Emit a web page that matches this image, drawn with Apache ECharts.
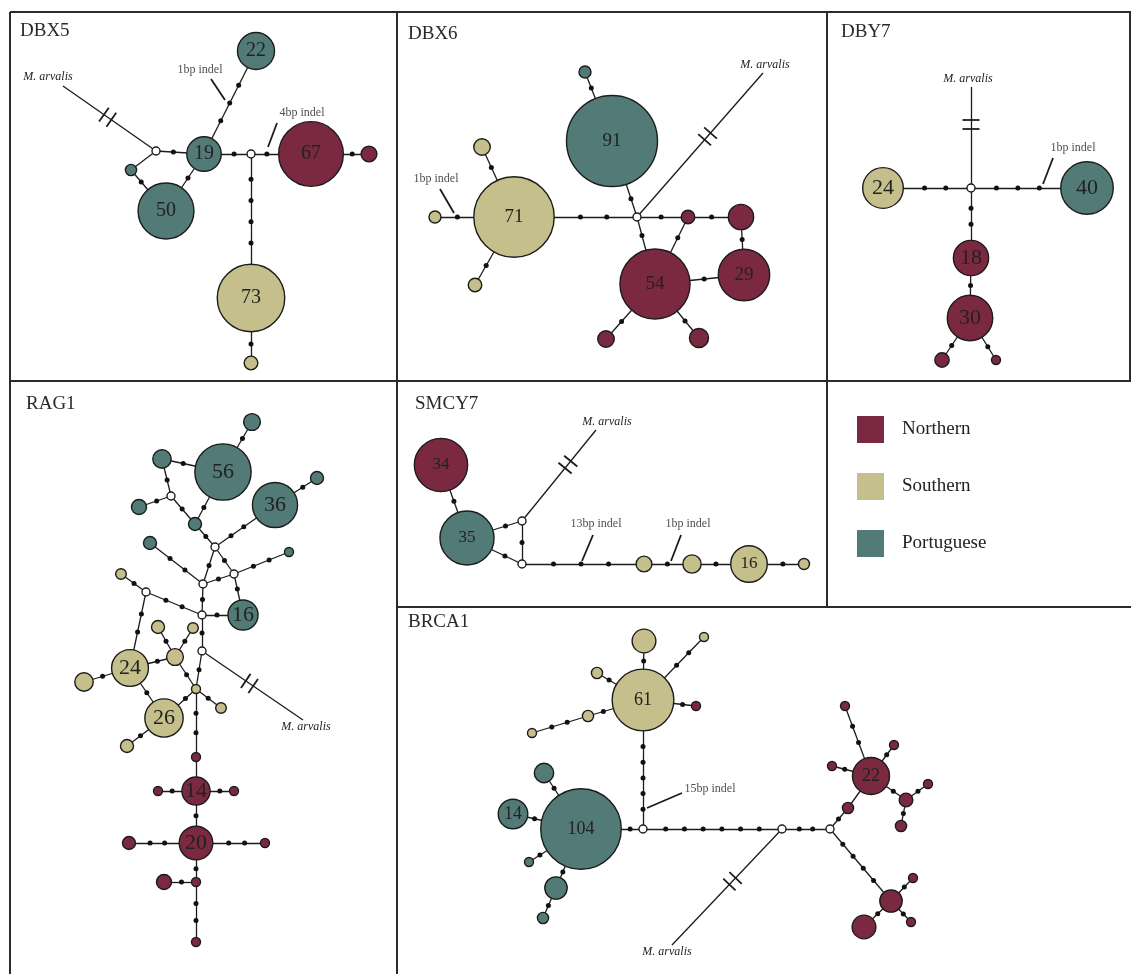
<!DOCTYPE html>
<html><head><meta charset="utf-8">
<script src="https://cdn.jsdelivr.net/npm/echarts@6/dist/echarts.min.js"></script>
<style>html,body{margin:0;padding:0;background:#fff}#c{width:1131px;height:974px}</style>
</head><body><div id="c"></div>
<script>
// ================= DATA =================
const REGIONS = ['Northern', 'Southern', 'Portuguese'];
const OUTGROUP = 'M. arvalis';

// DBX5: haplotypes [id, region, count], median vectors, links [from, to, mutation steps]
const DBX5_HAPLOTYPES = [['a','Portuguese',22],['b','Portuguese',19],['c','Northern',67],['d','Northern',4],
  ['e','Portuguese',50],['f','Portuguese',2],['g','Southern',73],['h','Southern',3]];
const DBX5_MEDIANS = ['m1','m2'];
const DBX5_LINKS = [['m1','b',1],['m1','f',0],['f','e',1],['b','e',1],['b','a',3],['b','m2',1],
  ['m2','c',1],['c','d',1],['m2','g',4],['g','h',1],['m1','arv',0]];
const DBX5_INDELS = ['1bp indel','4bp indel'];

const DBX6_HAPLOTYPES = [['a','Portuguese',91],['b','Portuguese',1],['c','Southern',71],['d','Southern',3],
  ['e','Southern',1],['f','Southern',2],['g','Northern',2],['h','Northern',7],['i','Northern',29],
  ['j','Northern',54],['k','Northern',3],['l','Northern',4]];
const DBX6_MEDIANS = ['m'];
const DBX6_LINKS = [['a','b',1],['c','d',1],['c','e',1],['c','f',1],['c','m',2],['a','m',1],['m','g',1],
  ['g','h',1],['h','i',1],['m','j',1],['j','g',1],['j','i',1],['j','k',1],['j','l',1],['m','arv',0]];
const DBX6_INDELS = ['1bp indel'];

const DBY7_HAPLOTYPES = [['a','Southern',24],['b','Portuguese',40],['c','Northern',18],['d','Northern',30],
  ['e','Northern',3],['f','Northern',1]];
const DBY7_MEDIANS = ['m'];
const DBY7_LINKS = [['a','m',2],['m','b',3],['m','c',2],['c','d',1],['d','e',1],['d','f',1],['m','arv',0]];
const DBY7_INDELS = ['1bp indel'];

const RAG1_HAPLOTYPES = [['n56','Portuguese',56],['t1','Portuguese',5],['t2','Portuguese',6],['t3','Portuguese',4],
  ['t4','Portuguese',3],['n36','Portuguese',36],['t5','Portuguese',3],['t6','Portuguese',3],['t7','Portuguese',1],
  ['n16','Portuguese',16],['s1','Southern',2],['n24','Southern',24],['H','Southern',1],['I','Southern',5],
  ['s2','Southern',3],['s3','Southern',2],['s4','Southern',6],['n26','Southern',26],['s5','Southern',3],
  ['s6','Southern',2],['r1','Northern',1],['n14','Northern',14],['r2','Northern',1],['r3','Northern',1],
  ['n20','Northern',20],['r4','Northern',3],['r5','Northern',1],['J','Northern',1],['K','Northern',4],['r6','Northern',1]];
const RAG1_MEDIANS = ['A','B','C','D','E','F','G'];
const RAG1_LINKS = [['n56','t1',1],['n56','t2',1],['t2','A',1],['A','t3',1],['A','t4',1],['n56','t4',1],['t4','B',1],
  ['B','n36',2],['n36','t5',1],['t6','C',2],['B','C',1],['B','D',1],['C','D',1],['D','t7',2],['D','n16',1],
  ['C','E',1],['E','n16',1],['s1','F',1],['F','E',2],['F','n24',2],['E','G',1],['G','H',1],['G','arv',0],
  ['I','s2',1],['I','s3',1],['I','n24',1],['I','H',1],['n24','s4',1],['n24','n26',1],['n26','H',1],['n26','s5',1],
  ['H','s6',1],['H','r1',2],['r1','n14',0],['n14','r2',1],['n14','r3',1],['n14','n20',1],['n20','r4',2],
  ['n20','r5',2],['n20','J',1],['J','K',1],['J','r6',2]];
const RAG1_INDELS = [];

const SMCY7_HAPLOTYPES = [['a','Northern',34],['b','Portuguese',35],['t1','Southern',3],['t2','Southern',4],
  ['c','Southern',16],['t3','Southern',1]];
const SMCY7_MEDIANS = ['mu','ml'];
const SMCY7_LINKS = [['a','b',1],['b','mu',1],['b','ml',1],['mu','ml',1],['ml','t1',3],['t1','t2',1],
  ['t2','c',1],['c','t3',1],['mu','arv',0]];
const SMCY7_INDELS = ['13bp indel','1bp indel'];

const BRCA1_HAPLOTYPES = [['n61','Southern',61],['s1','Southern',9],['s2','Southern',1],['s3','Southern',2],
  ['r1','Northern',1],['s4','Southern',2],['s5','Southern',1],['n104','Portuguese',104],['p1','Portuguese',6],
  ['n14','Portuguese',14],['p2','Portuguese',1],['p3','Portuguese',8],['p4','Portuguese',2],['r2','Northern',2],
  ['n22','Northern',22],['r3','Northern',1],['r4','Northern',1],['r5','Northern',1],['r6','Northern',3],
  ['r7','Northern',1],['r8','Northern',2],['r9','Northern',8],['r10','Northern',1],['r11','Northern',1],['r12','Northern',9]];
const BRCA1_MEDIANS = ['M1','M2','M3'];
const BRCA1_LINKS = [['n61','s1',1],['n61','s2',2],['n61','s3',1],['n61','r1',1],['n61','s4',1],['s4','s5',2],
  ['n61','M1',5],['n104','M1',1],['n104','p1',1],['n104','n14',1],['n104','p2',1],['n104','p3',1],['p3','p4',1],
  ['M1','M2',6],['M2','M3',2],['M3','r2',1],['r2','n22',0],['n22','r3',2],['n22','r4',1],['n22','r5',1],
  ['n22','r6',1],['r6','r7',1],['r6','r8',1],['M3','r9',4],['r9','r10',1],['r9','r11',1],['r9','r12',1],['M2','arv',0]];
const BRCA1_INDELS = ['15bp indel'];

// ================= LAYOUT (figure units) =================
const DBX5_LAYOUT = {a:[256,51],b:[204,154],c:[311,154],d:[369,154],e:[166,211],f:[131,170],g:[251,298],
  h:[251,363],m1:[156,151],m2:[251,154],arv:[63,86]};
const DBX5_INDEL_MARKS = [[[211,79],[225,100],[200,70]],[[277,123],[268,147],[302,113]]];

const DBX6_LAYOUT = {a:[612,141],b:[585,72],c:[514,217],d:[482,147],e:[435,217],f:[475,285],g:[688,217],
  h:[741,217],i:[744,275],j:[655,284],k:[606,339],l:[699,338],m:[637,217],arv:[763,73]};
const DBX6_INDEL_MARKS = [[[440,189],[454,213],[436,179]]];

const DBY7_LAYOUT = {a:[883,188],b:[1087,188],c:[971,258],d:[970,318],e:[942,360],f:[996,360],m:[971,188],arv:[971,87]};
const DBY7_INDEL_MARKS = [[[1053,158],[1043,184],[1073,148]]];

const RAG1_LAYOUT = {n56:[223,472],t1:[252,422],t2:[162,459],A:[171,496],t3:[139,507],t4:[195,524],n36:[275,505],
  t5:[317,478],B:[215,547],t6:[150,543],C:[203,584],D:[234,574],t7:[289,552],n16:[243,615],E:[202,615],
  s1:[121,574],F:[146,592],n24:[130,668],G:[202,651],H:[196,689],I:[175,657],s2:[158,627],s3:[193,628],
  s4:[84,682],n26:[164,718],s5:[127,746],s6:[221,708],r1:[196,757],n14:[196,791],r2:[158,791],r3:[234,791],
  n20:[196,843],r4:[129,843],r5:[265,843],J:[196,882],K:[164,882],r6:[196,942],arv:[303,720]};
const RAG1_INDEL_MARKS = [];

const SMCY7_LAYOUT = {a:[441,465],b:[467,538],mu:[522,521],ml:[522,564],t1:[644,564],t2:[692,564],c:[749,564],
  t3:[804,564],arv:[596,430]};
const SMCY7_INDEL_MARKS = [[[593,535],[582,561],[596,524]],[[681,535],[671,561],[688,524]]];

const BRCA1_LAYOUT = {n61:[643,700],s1:[644,641],s2:[704,637],s3:[597,673],r1:[696,706],s4:[588,716],s5:[532,733],
  M1:[643,829],n104:[581,829],p1:[544,773],n14:[513,814],p2:[529,862],p3:[556,888],p4:[543,918],M2:[782,829],
  M3:[830,829],r2:[848,808],n22:[871,776],r3:[845,706],r4:[832,766],r5:[894,745],r6:[906,800],r7:[928,784],
  r8:[901,826],r9:[891,901],r10:[913,878],r11:[911,922],r12:[864,927],arv:[672,945]};
const BRCA1_INDEL_MARKS = [[[682,793],[647,808],[710,789]]];

// ================= STYLE =================
const COLORS = {Northern:'#7b2941', Southern:'#c5bf8b', Portuguese:'#527b77'};
const INK = '#1c1c1c';
const FONT = '"Liberation Serif", "Times New Roman", serif';
const PANELS = [
  {title:'DBX5', tl:[20,22], hap:DBX5_HAPLOTYPES, med:DBX5_MEDIANS, links:DBX5_LINKS, indels:DBX5_INDELS,
   layout:DBX5_LAYOUT, marks:DBX5_INDEL_MARKS, k:3.95, rmin:5, fs:20, hash:0.52, outOff:[-15,-9]},
  {title:'DBX6', tl:[408,25], hap:DBX6_HAPLOTYPES, med:DBX6_MEDIANS, links:DBX6_LINKS, indels:DBX6_INDELS,
   layout:DBX6_LAYOUT, marks:DBX6_INDEL_MARKS, k:4.77, rmin:6, fs:19, hash:0.56, outOff:[2,-8]},
  {title:'DBY7', tl:[841,23], hap:DBY7_HAPLOTYPES, med:DBY7_MEDIANS, links:DBY7_LINKS, indels:DBY7_INDELS,
   layout:DBY7_LAYOUT, marks:DBY7_INDEL_MARKS, k:4.15, rmin:4.5, fs:22, hash:0.63, outOff:[-3,-8]},
  {title:'RAG1', tl:[26,395], hap:RAG1_HAPLOTYPES, med:RAG1_MEDIANS, links:RAG1_LINKS, indels:RAG1_INDELS,
   layout:RAG1_LAYOUT, marks:RAG1_INDEL_MARKS, k:3.76, rmin:4.5, fs:22, hash:0.47, outOff:[3,7]},
  {title:'SMCY7', tl:[415,395], hap:SMCY7_HAPLOTYPES, med:SMCY7_MEDIANS, links:SMCY7_LINKS, indels:SMCY7_INDELS,
   layout:SMCY7_LAYOUT, marks:SMCY7_INDEL_MARKS, k:4.57, rmin:5.5, fs:17, hash:0.62, outOff:[11,-8]},
  {title:'BRCA1', tl:[408,613], hap:BRCA1_HAPLOTYPES, med:BRCA1_MEDIANS, links:BRCA1_LINKS, indels:BRCA1_INDELS,
   layout:BRCA1_LAYOUT, marks:BRCA1_INDEL_MARKS, k:3.95, rmin:4.5, fs:18, hash:0.45, outOff:[-5,7]}
];
const FRAME_LINES = [[10,12,1131,12],[10,12,10,974],[397,12,397,974],[827,12,827,607],
  [10,381,1131,381],[397,607,1131,607],[1130,12,1130,381]];

// ================= BUILD =================
function buildPanel(P) {
  const nodes = [], idx = {}, rad = {};
  const add = (id, item, r) => { idx[id] = nodes.length; rad[id] = r; nodes.push(item); };
  P.hap.forEach(([id, region, n]) => {
    const r = Math.max(P.rmin, P.k * Math.sqrt(n));
    add(id, {name:id, value:P.layout[id], category:region, symbolSize:2*r,
      label:{show:n >= 10, formatter:String(n), fontSize:P.fs, color:'#222', fontFamily:FONT}}, r);
  });
  P.med.forEach(id => add(id, {name:id, value:P.layout[id], symbolSize:8,
    itemStyle:{color:'#fff', borderColor:INK, borderWidth:1.4}, label:{show:false}}, 4));
  add('arv', {name:'arv', value:P.layout.arv, symbolSize:1,
    itemStyle:{color:'rgba(0,0,0,0)', borderWidth:0},
    label:{show:true, formatter:OUTGROUP, position:'inside', offset:P.outOff, fontStyle:'italic',
      fontSize:12, color:'#222', fontFamily:FONT}}, 0);
  const links = [];
  let hashLines = [];
  P.links.forEach(([s, t, steps]) => {
    links.push({source:idx[s], target:idx[t]});
    const a = P.layout[s], b = P.layout[t];
    const dx = b[0]-a[0], dy = b[1]-a[1], L = Math.hypot(dx, dy);
    const ux = dx/L, uy = dy/L;
    const span = L - rad[s] - rad[t];
    for (let i = 1; i <= steps; i++) {
      const d = rad[s] + span*i/(steps+1);
      nodes.push({name:s+'_'+t+'_'+i, value:[a[0]+ux*d, a[1]+uy*d], symbolSize:5,
        itemStyle:{color:'#111', borderWidth:0}, label:{show:false}});
    }
    if (t === 'arv') {
      const cx = a[0]+ux*L*P.hash, cy = a[1]+uy*L*P.hash;
      const nx = -uy, ny = ux, h = 8.5;
      [-4.5, 4.5].forEach(o => {
        const px = cx+ux*o, py = cy+uy*o;
        hashLines.push({coords:[[px-nx*h, py-ny*h],[px+nx*h, py+ny*h]]});
      });
    }
  });
  const series = [{
    type:'graph', layout:'none', coordinateSystem:'cartesian2d', xAxisIndex:0, yAxisIndex:0,
    silent:true, animation:false, emphasis:{disabled:true},
    categories:REGIONS.map(n => ({name:n, itemStyle:{color:COLORS[n]}})),
    itemStyle:{borderColor:INK, borderWidth:1.4},
    lineStyle:{color:INK, width:1.3, opacity:1, curveness:0},
    data:nodes, links:links, z:3
  }, {
    type:'lines', coordinateSystem:'cartesian2d', xAxisIndex:0, yAxisIndex:0, silent:true, animation:false,
    lineStyle:{color:INK, width:1.8, opacity:1}, z:4,
    data:hashLines.concat(P.marks.map(m => ({coords:[m[0], m[1]]})))
  }];
  if (P.indels.length) series.push({
    type:'scatter', xAxisIndex:0, yAxisIndex:0, silent:true, animation:false, symbolSize:1,
    itemStyle:{color:'rgba(0,0,0,0)'}, z:4,
    label:{show:true, position:'inside', formatter:'{b}', fontSize:12, color:'#222', fontFamily:FONT},
    data:P.indels.map((txt, i) => ({name:txt, value:P.marks[i][2]}))
  });
  return series;
}

const chart = echarts.init(document.getElementById('c'), null, {renderer:'canvas'});
const series = [];
PANELS.forEach(P => series.push(...buildPanel(P)));
chart.setOption({
  backgroundColor:'#fff',
  animation:false,
  textStyle:{fontFamily:FONT},
  grid:{left:0, top:0, right:0, bottom:0},
  xAxis:{type:'value', min:0, max:1131, show:false},
  yAxis:{type:'value', min:0, max:974, inverse:true, show:false},
  title:PANELS.map(P => ({text:P.title, left:P.tl[0], top:P.tl[1], padding:0,
    textStyle:{fontFamily:FONT, fontSize:19, fontWeight:'normal', color:'#2a2a2a'}})),
  legend:{data:REGIONS.map(n => ({name:n, icon:'rect'})), orient:'vertical', left:857, top:416,
    itemWidth:27, itemHeight:27, itemGap:30, selectedMode:false, padding:0,
    itemStyle:{borderWidth:0},
    textStyle:{fontFamily:FONT, fontSize:19, color:'#222', padding:[0,0,0,13]}},
  graphic:FRAME_LINES.map(([x1,y1,x2,y2]) => ({type:'line', silent:true,
    shape:{x1, y1, x2, y2}, style:{stroke:'#2b2b2b', lineWidth:2}})),
  series:series
});
</script>
</body></html>
